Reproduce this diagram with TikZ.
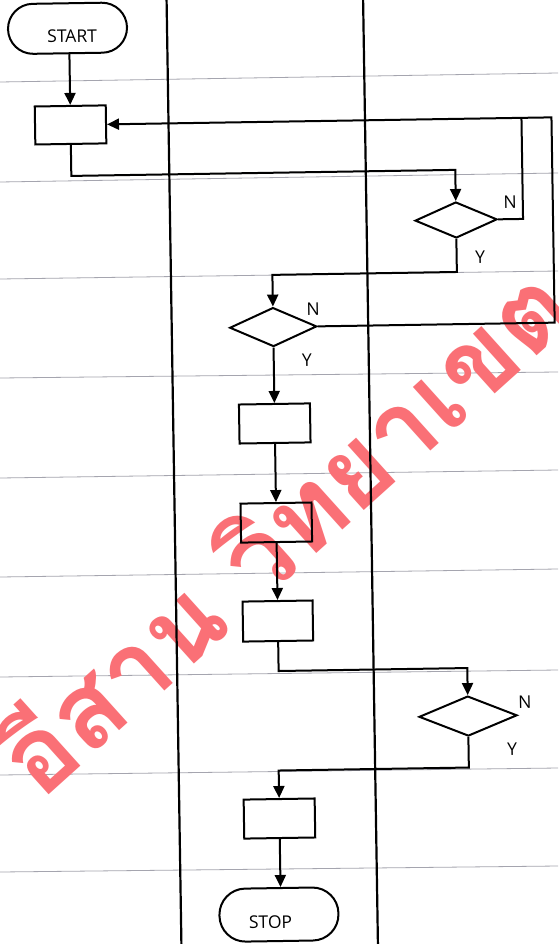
\documentclass[tikz,border=0pt]{standalone}
\usepackage{fontspec}
\setmainfont{Open Sans}
\newfontfamily\thaifont[Script=Thai]{Loma}
\usetikzlibrary{arrows.meta,shapes.geometric,calc}
\definecolor{wmred}{RGB}{250,112,118}
\definecolor{rulegray}{RGB}{165,165,175}
\begin{document}
\begin{tikzpicture}[x=1pt,y=-1pt,
  every node/.style={font=\fontsize{17.5}{20}\selectfont},
  ln/.style={line width=2pt, black},
  arr/.style={ln, -{Triangle[width=11pt,length=12pt]}},
  proc/.style={draw, line width=2pt, minimum width=71pt, minimum height=38pt, inner sep=0pt},
  term/.style={draw, line width=2pt, rounded corners=25pt, minimum width=119pt, minimum height=50pt, inner sep=0pt},
  dec/.style={draw, diamond, line width=2pt, inner sep=0pt},
  lane/.style={line width=2.2pt, black},
  ruled/.style={rulegray, line width=0.8pt}
]
\useasboundingbox (0,0) rectangle (558,944);
\clip (0,0) rectangle (558,944);
\fill[white] (0,0) rectangle (558,944);
% ruled paper lines
\foreach \a/\b in {82/73,182/173,279/271,378/372,478/470,577/569,677/670,775/768,872/866}
  \draw[ruled] (0,\a) -- (558,\b);
% watermark
\node[text=wmred, rotate=42, font=\thaifont\bfseries\fontsize{106}{116}\selectfont, inner sep=0pt] (wm) at (280,527) {อีสาน วิทยาเขต};
\begin{scope}[rotate around={0.9:(279,472)}, transform shape]
  % swimlane lines
  \draw[lane] (174,-60) -- (174,1010);
  \draw[lane] (370.5,-60) -- (370.5,1010);
  % nodes
  \node[term, label={[xshift=4.5pt,yshift=-8pt]center:START}] (start) at (74.5,25) {};
  \node[proc] (box1) at (76,121.7) {};
  \node[dec, minimum width=82pt, minimum height=36pt] (dec1) at (460,222.8) {};
  \node[dec, minimum width=87pt, minimum height=39pt] (dec2) at (275.5,327) {};
  \node[proc, minimum height=39pt] (box2) at (275.5,423.4) {};
  \node[proc, minimum height=39pt] (box3) at (275.5,522.5) {};
  \node[proc, minimum height=40pt, minimum width=70pt] (box4) at (275.5,621) {};
  \node[dec, minimum width=98pt, minimum height=40pt] (dec3) at (464.2,719) {};
  \node[proc, minimum height=39pt] (box5) at (274,818.5) {};
  \node[term, minimum height=53pt, rounded corners=26pt, label={[xshift=-8.5pt,yshift=-7.5pt]center:STOP}] (stop) at (272,914.5) {};
  % labels
  \node (n1) at (514.4,205.6) {N};
  \node (y1) at (483.4,260.2) {Y};
  \node (n2) at (315.6,309.5) {N};
  \node (y2) at (308.8,360.4) {Y};
  \node (n3) at (521.2,705.9) {N};
  \node (y3) at (507.7,752.7) {Y};
  % loop coordinates
  \coordinate (o1) at (557,121.7);
  \coordinate (i1) at (527,121.7);
  % connectors
  \draw[arr] (box1.north |- start.south) -- (box1.north);
  \draw[arr] (box1.south) -- ++(0,31) -| (dec1.north);
  \draw[ln] (dec1.east) -| (i1);
  \draw[arr] (dec2.east) -| (o1) -- (box1.east);
  \draw[arr] (dec1.south) -- ++(0,33) -| (dec2.north);
  \draw[arr] (dec2.south) -- (box2.north);
  \draw[arr] (box2.south) -- (box3.north);
  \draw[arr] (box3.south) -- (box4.north);
  \draw[arr] (box4.south) -- ++(0,29) -| (dec3.north);
  \draw[arr] (dec3.south) -- ++(0,30.5) -| (box5.north);
  \draw[arr] (box5.south) -- (box5.south |- stop.north);
\end{scope}
\end{tikzpicture}
\end{document}
